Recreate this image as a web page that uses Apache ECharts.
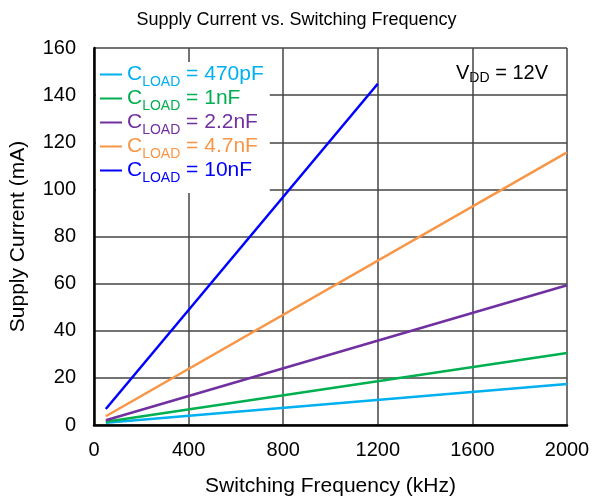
<!DOCTYPE html>
<html>
<head>
<meta charset="utf-8">
<script src="https://cdn.jsdelivr.net/npm/echarts@6/dist/echarts.min.js"></script>
<style>
  html, body { margin: 0; padding: 0; background: #fff; }
  #chart { width: 593px; height: 502px; }
</style>
</head>
<body>
<div id="chart"></div>
<script>
// Supply current (mA) against switching frequency (kHz) for several load capacitances
const freqPoints = [50, 2000];
const freqPoints10n = [50, 1200];
const loadLabels = ['470pF', '1nF', '2.2nF', '4.7nF', '10nF'];
const current470p = [1.0, 17.4];
const current1n = [1.4, 30.6];
const current2n2 = [2.0, 59.3];
const current4n7 = [3.7, 115.7];
const current10n = [6.8, 144.8];
const xTicks = [0, 400, 800, 1200, 1600, 2000];
const yTicks = [0, 20, 40, 60, 80, 100, 120, 140, 160];

const colors = ['#00B0F0', '#00B050', '#7030A0', '#F79646', '#0000FF'];
const seriesValues = [current470p, current1n, current2n2, current4n7, current10n];
const seriesFreqs = [freqPoints, freqPoints, freqPoints, freqPoints, freqPoints10n];

const font = 'Liberation Sans, Arial, sans-serif';

const series = loadLabels.map((lbl, i) => ({
  name: lbl,
  type: 'line',
  data: seriesFreqs[i].map((f, k) => [f, seriesValues[i][k]]),
  showSymbol: false,
  symbol: 'none',
  lineStyle: { color: colors[i], width: 2.5 },
  itemStyle: { color: colors[i] },
  z: 5
}));

const chart = echarts.init(document.getElementById('chart'), null, { renderer: 'canvas' });
chart.setOption({
  animation: false,
  backgroundColor: '#fff',
  title: {
    text: 'Supply Current vs. Switching Frequency',
    left: 'center',
    top: 6,
    textStyle: { fontFamily: font, fontSize: 18, fontWeight: 'normal', color: '#000' }
  },
  grid: { left: 94, right: 26, top: 48, bottom: 76 },
  xAxis: {
    type: 'value',
    min: 0, max: 2000, interval: 400,
    name: 'Switching Frequency (kHz)',
    nameLocation: 'middle',
    nameGap: 51,
    nameTextStyle: { fontFamily: font, fontSize: 21, color: '#000' },
    axisLine: { show: true, onZero: false, lineStyle: { color: '#000', width: 2.5 } },
    axisTick: { show: false },
    axisLabel: { fontFamily: font, fontSize: 20, color: '#000', margin: 15,
      formatter: v => xTicks.includes(v) ? String(v) : '' },
    splitLine: { show: true, lineStyle: { color: '#444', width: 1.5 } }
  },
  yAxis: {
    type: 'value',
    min: 0, max: 160, interval: 20,
    name: 'Supply Current (mA)',
    nameLocation: 'middle',
    nameGap: 65,
    nameTextStyle: { fontFamily: font, fontSize: 21, color: '#000' },
    axisLine: { show: true, onZero: false, lineStyle: { color: '#000', width: 2.5 } },
    axisTick: { show: false },
    axisLabel: { fontFamily: font, fontSize: 20, color: '#000', margin: 18,
      formatter: v => yTicks.includes(v) ? String(v) : '' },
    splitLine: { show: true, lineStyle: { color: '#444', width: 1.5 } }
  },
  legend: {
    orient: 'vertical',
    left: 96,
    top: 62,
    padding: [2, 6, 8, 4],
    backgroundColor: '#fff',
    icon: 'rect',
    itemWidth: 22,
    itemHeight: 2,
    itemGap: -1,
    data: loadLabels.map((lbl, i) => ({
      name: lbl,
      textStyle: { color: colors[i] }
    })),
    formatter: name => '{c|C}{s|LOAD}{c| = ' + name + '}',
    textStyle: {
      fontFamily: font,
      fontSize: 20,
      rich: {
        c: { fontFamily: font, fontSize: 21, verticalAlign: 'bottom', lineHeight: 21 },
        s: { fontFamily: font, fontSize: 14, verticalAlign: 'bottom', lineHeight: 21, padding: [0, 0, -4, 0] }
      }
    }
  },
  graphic: [{
    type: 'group',
    right: 27,
    top: 50,
    children: [
      { type: 'rect', shape: { x: 0, y: 0, width: 124, height: 42 }, style: { fill: '#fff' } },
      {
        type: 'text',
        x: 60, y: 23,
        style: {
          text: 'V{s|DD} = 12V',
          fill: '#000',
          font: '20px ' + font,
          align: 'center',
          verticalAlign: 'middle',
          rich: {
            s: { fontSize: 14, fontFamily: font, padding: [11, 0, 0, 0] }
          }
        }
      }
    ],
    z: 10
  }],
  series: series
});
</script>
</body>
</html>
